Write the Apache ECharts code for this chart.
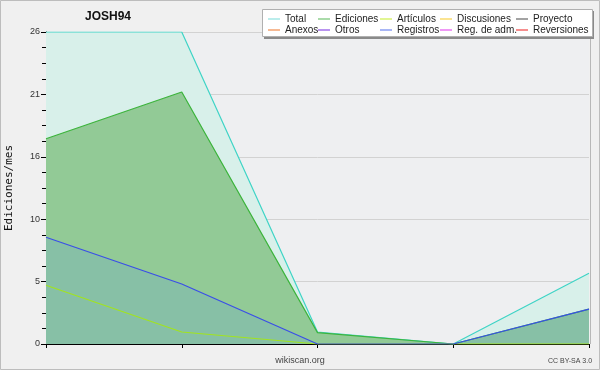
<!DOCTYPE html>
<html>
<head>
<meta charset="utf-8">
<script src="https://cdn.jsdelivr.net/npm/echarts@6/dist/echarts.min.js"></script>
<style>
html,body{margin:0;padding:0;background:#f0f0f0;}
#c{width:600px;height:370px;}
</style>
</head>
<body>
<div id="c"></div>
<script>
// ---- data ----
const categories = ['P1', 'P2', 'P3', 'P4', 'P5'];
const total      = [26, 26, 1, 0, 5.9];
const ediciones  = [17.1, 21, 0.95, 0, 2.9];
const articulos  = [4.9, 1, 0, 0, 0];
const registros  = [8.9, 5, 0, 0, 2.9];
const yTickLabels = ['0', '5', '10', '16', '21', '26'];
const legendCol1 = ['Total', 'Anexos'];
const legendCol2 = ['Ediciones', 'Otros'];
const legendCol3 = ['Artículos', 'Registros'];
const legendCol4 = ['Discusiones', 'Reg. de adm.'];
const legendCol5 = ['Proyecto', 'Reversiones'];
const titleText = 'JOSH94';
const yAxisName = 'Ediciones/mes';

// ---- styles ----
const lineColors = {
  'Total': '#3fd4c6', 'Ediciones': '#3cb43c', 'Artículos': '#a2e41e',
  'Discusiones': '#f5c830', 'Proyecto': '#555555', 'Anexos': '#f07838',
  'Otros': '#7a3ce0', 'Registros': '#3a4ee8', 'Reg. de adm.': '#e040f0',
  'Reversiones': '#f03030'
};
const legendColors = {
  'Total': '#8ee2e0', 'Ediciones': '#72c472', 'Artículos': '#cff04c',
  'Discusiones': '#f8d24a', 'Proyecto': '#666666', 'Anexos': '#f08a4c',
  'Otros': '#8a4ce6', 'Registros': '#6f86f0', 'Reg. de adm.': '#e454f0',
  'Reversiones': '#f04444'
};
const fillColors = { 'Total': '#d8f0ea', 'Ediciones': '#92ca96', 'Registros': '#87c0a6' };

const seriesData = {
  'Total': total, 'Ediciones': ediciones, 'Artículos': articulos, 'Registros': registros,
  'Discusiones': [], 'Proyecto': [], 'Anexos': [], 'Otros': [], 'Reg. de adm.': [], 'Reversiones': []
};

const series = [];
['Total', 'Ediciones', 'Registros'].forEach(function (n) {
  series.push({
    name: '_fill_' + n, type: 'line', data: seriesData[n], silent: true, z: 1,
    showSymbol: false, symbol: 'none', lineStyle: { width: 0, opacity: 0 },
    areaStyle: { color: fillColors[n], opacity: 1 }
  });
});
['Total', 'Ediciones', 'Artículos', 'Registros', 'Discusiones', 'Proyecto', 'Anexos', 'Otros', 'Reg. de adm.', 'Reversiones'].forEach(function (n, i) {
  series.push({
    name: n, type: 'line', data: seriesData[n], z: 3 + i,
    showSymbol: false, symbol: 'none', color: lineColors[n],
    lineStyle: { width: 1.2, color: lineColors[n] }
  });
});

function mkLegend(names, left) {
  return {
    orient: 'vertical', left: left, top: 14, padding: 0, itemGap: 1, z: 300,
    icon: 'rect', itemWidth: 12, itemHeight: 1.2, selectedMode: false,
    textStyle: { fontFamily: 'Liberation Sans', fontSize: 10, color: '#222', lineHeight: 10, padding: 0 },
    data: names.map(function (n) { return { name: n, itemStyle: { color: legendColors[n] } }; })
  };
}

const chart = echarts.init(document.getElementById('c'), null, { renderer: 'canvas' });
chart.setOption({
  backgroundColor: '#f0f0f0',
  animation: false,
  title: {
    text: titleText, left: 85, top: 11, padding: 0,
    textStyle: { fontFamily: 'Liberation Sans', fontSize: 12, fontWeight: 'bold', color: '#111' }
  },
  legend: [mkLegend(legendCol1, 268), mkLegend(legendCol2, 318), mkLegend(legendCol3, 380),
           mkLegend(legendCol4, 440), mkLegend(legendCol5, 516)],
  grid: { left: 46, right: 11, top: 32, bottom: 26, show: true, backgroundColor: '#eeeff1', borderWidth: 0,
          containLabel: false, outerBoundsMode: 'none' },
  xAxis: {
    type: 'category', data: categories, boundaryGap: false,
    axisLine: { lineStyle: { color: '#000', width: 1 } },
    axisTick: { show: true, length: 4, lineStyle: { color: '#000' } },
    axisLabel: { show: false },
    splitLine: { show: false }
  },
  yAxis: {
    type: 'value', min: 0, max: 26, interval: 5.2,
    name: yAxisName, nameLocation: 'middle', nameRotate: 90, nameGap: 31,
    nameTextStyle: { fontFamily: 'DejaVu Sans Mono', fontSize: 11, color: '#111' },
    axisLine: { show: true, lineStyle: { color: '#000', width: 1 } },
    axisTick: { show: true, length: 5, lineStyle: { color: '#000' } },
    minorTick: { show: true, splitNumber: 4, length: 4, lineStyle: { color: '#000' } },
    axisLabel: {
      margin: 6, fontFamily: 'Liberation Sans', fontSize: 9, color: '#333',
      formatter: function (v, i) { return yTickLabels[i] !== undefined ? yTickLabels[i] : String(Math.round(v)); }
    },
    splitLine: { show: true, lineStyle: { color: '#d2d2d2', width: 1 } }
  },
  graphic: [
    { type: 'rect', shape: { x: 0.5, y: 0.5, width: 599, height: 369 }, style: { fill: 'none', stroke: '#bdbdbd', lineWidth: 1 }, z: 100 },
    { type: 'line', shape: { x1: 590.5, y1: 32, x2: 590.5, y2: 344 }, style: { stroke: '#b8b8b8', lineWidth: 1 }, z: 100 },
    { type: 'rect', shape: { x: 264, y: 11, width: 330, height: 28 }, style: { fill: '#8a8a8a' }, z: 200 },
    { type: 'rect', shape: { x: 262.5, y: 9.5, width: 330, height: 27 }, style: { fill: '#ffffff', stroke: '#b0b0b0', lineWidth: 1 }, z: 201 },
    { type: 'text', left: 'center', top: 356, style: { text: 'wikiscan.org', fontFamily: 'Liberation Sans', fontSize: 9, fill: '#444' }, z: 100 },
    { type: 'text', left: 548, top: 358, style: { text: 'CC BY-SA 3.0', fontFamily: 'Liberation Sans', fontSize: 7, fill: '#444' }, z: 100 }
  ],
  series: series
});
</script>
</body>
</html>
